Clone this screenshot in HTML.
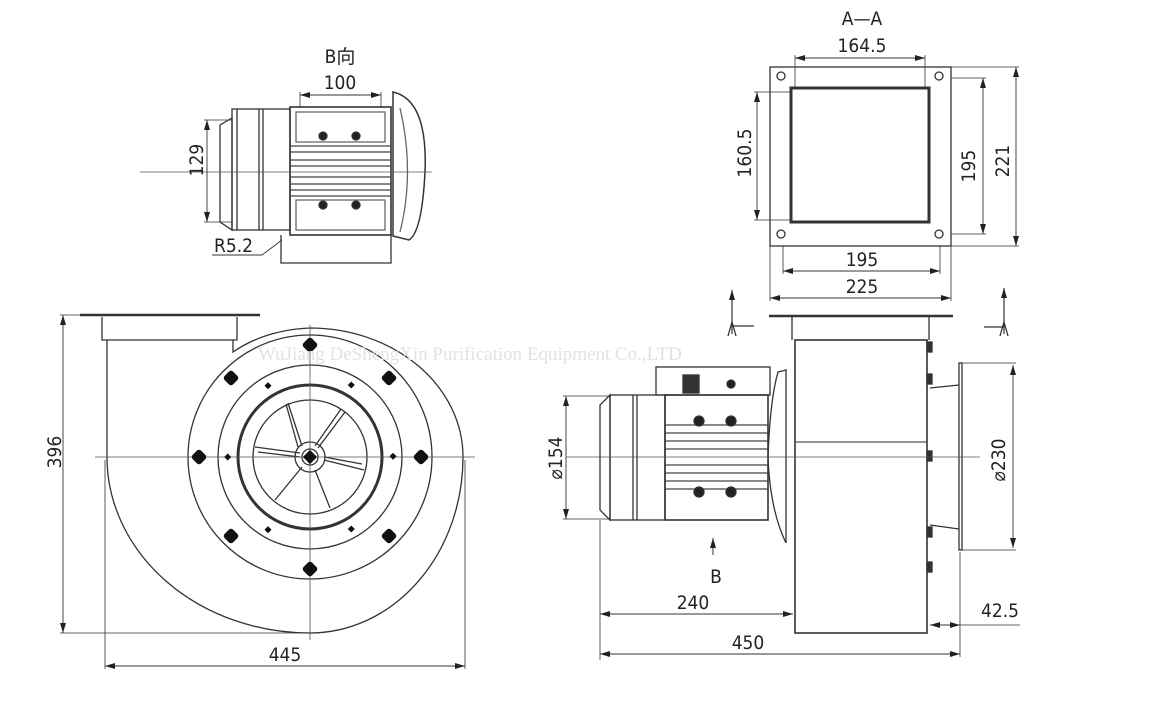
<!DOCTYPE html>
<html><head><meta charset="utf-8"><style>
html,body{margin:0;padding:0;background:#fff;}
svg{display:block;}
text{font-family:"DejaVu Sans Condensed","Liberation Sans Narrow","Liberation Sans","Noto Sans CJK SC",sans-serif;fill:#222;}
</style></head><body>
<svg width="1154" height="702" viewBox="0 0 1154 702" xmlns="http://www.w3.org/2000/svg">
<defs>
<marker id="a" viewBox="0 0 10 6" refX="10" refY="3" markerWidth="10" markerHeight="6" orient="auto-start-reverse" markerUnits="userSpaceOnUse"><path d="M0,0L10,3L0,6z" fill="#222"/></marker>
</defs>
<g fill="none" stroke="#333" stroke-width="1.3">

<!-- ===== B view (top-left) ===== -->
<path d="M232,118 L220,125 L220,222 L232,230 Z"/>
<rect x="232" y="109" width="58" height="121"/>
<line x1="237" y1="109" x2="237" y2="230"/><line x1="259" y1="109" x2="259" y2="230"/><line x1="263" y1="109" x2="263" y2="230"/>
<rect x="290" y="107" width="101" height="128" stroke-width="1.6"/>
<rect x="296" y="112" width="89" height="30" stroke="#666"/>
<rect x="296" y="200" width="89" height="30" stroke="#666"/>
<g stroke="#444" stroke-width="1.2">
<line x1="290" y1="146" x2="391" y2="146"/><line x1="290" y1="152" x2="391" y2="152"/>
<line x1="290" y1="160" x2="391" y2="160"/><line x1="290" y1="166" x2="391" y2="166"/>
<line x1="290" y1="177" x2="391" y2="177"/><line x1="290" y1="184" x2="391" y2="184"/>
<line x1="290" y1="190" x2="391" y2="190"/><line x1="290" y1="196" x2="391" y2="196"/>
</g>
<circle cx="323" cy="136" r="4" fill="#222"/><circle cx="356" cy="136" r="4" fill="#222"/>
<circle cx="323" cy="205" r="4" fill="#222"/><circle cx="356" cy="205" r="4" fill="#222"/>
<path d="M393,92 Q428,100 425,172 Q422,232 409,240 L393,236 Z" stroke-width="1.5"/>
<path d="M400,108 Q415,172 400,232" stroke="#666"/>
<path d="M281,235 L281,263 L391,263 L391,235"/>
<line x1="140" y1="172" x2="432" y2="172" stroke="#555" stroke-width="0.8"/>
<line x1="300" y1="95" x2="381" y2="95" marker-start="url(#a)" marker-end="url(#a)" stroke-width="0.9"/>
<line x1="300" y1="92" x2="300" y2="107" stroke-width="0.8"/><line x1="381" y1="92" x2="381" y2="107" stroke-width="0.8"/>
<line x1="207" y1="120" x2="207" y2="222" marker-start="url(#a)" marker-end="url(#a)" stroke-width="0.9"/>
<line x1="204" y1="120" x2="232" y2="120" stroke-width="0.8"/><line x1="204" y1="222" x2="232" y2="222" stroke-width="0.8"/>
<path d="M212,255 L262,255 L282,240" stroke-width="0.9"/>

<!-- ===== A-A (top-right) ===== -->
<rect x="770" y="67" width="181" height="179" stroke-width="1.3"/>
<rect x="791" y="88" width="138" height="134" stroke-width="3" stroke="#333"/>
<circle cx="781" cy="76" r="4"/><circle cx="939" cy="76" r="4"/>
<circle cx="781" cy="234" r="4"/><circle cx="939" cy="234" r="4"/>
<line x1="795" y1="58" x2="925" y2="58" marker-start="url(#a)" marker-end="url(#a)" stroke-width="0.9"/>
<line x1="795" y1="55" x2="795" y2="88" stroke-width="0.8"/><line x1="925" y1="55" x2="925" y2="88" stroke-width="0.8"/>
<line x1="757" y1="92" x2="757" y2="220" marker-start="url(#a)" marker-end="url(#a)" stroke-width="0.9"/>
<line x1="754" y1="92" x2="791" y2="92" stroke-width="0.8"/><line x1="754" y1="220" x2="791" y2="220" stroke-width="0.8"/>
<line x1="983" y1="78" x2="983" y2="234" marker-start="url(#a)" marker-end="url(#a)" stroke-width="0.9"/>
<line x1="951" y1="78" x2="986" y2="78" stroke-width="0.8"/><line x1="951" y1="234" x2="986" y2="234" stroke-width="0.8"/>
<line x1="1016" y1="67" x2="1016" y2="246" marker-start="url(#a)" marker-end="url(#a)" stroke-width="0.9"/>
<line x1="951" y1="67" x2="1019" y2="67" stroke-width="0.8"/><line x1="951" y1="246" x2="1019" y2="246" stroke-width="0.8"/>
<line x1="783" y1="271" x2="940" y2="271" marker-start="url(#a)" marker-end="url(#a)" stroke-width="0.9"/>
<line x1="783" y1="246" x2="783" y2="274" stroke-width="0.8"/><line x1="940" y1="246" x2="940" y2="274" stroke-width="0.8"/>
<line x1="770" y1="298" x2="951" y2="298" marker-start="url(#a)" marker-end="url(#a)" stroke-width="0.9"/>
<line x1="770" y1="246" x2="770" y2="301" stroke-width="0.8"/><line x1="951" y1="246" x2="951" y2="301" stroke-width="0.8"/>
<path d="M732,334 L732,290" marker-end="url(#a)" stroke-width="1.2"/><path d="M732,326 L754,326"/><path d="M728,336 L732,322 L736,336"/>
<path d="M1004,334 L1004,288" marker-end="url(#a)" stroke-width="1.2"/><path d="M984,327 L1004,327"/><path d="M1000,336 L1004,322 L1008,336"/>

<!-- ===== front view (bottom-left) ===== -->
<line x1="80" y1="315" x2="260" y2="315" stroke-width="2.5"/>
<path d="M102,317 L102,340 L237,340 L237,317"/>
<path d="M107,340 L107,457 A203,176 0 0 0 310,633 A153,176 0 0 0 463,457 A153,129 0 0 0 310,328 Q265,330 233,352 L233,340"/>
<circle cx="310" cy="457" r="122"/>
<circle cx="310" cy="457" r="92"/>
<circle cx="310" cy="457" r="72" stroke-width="3"/>
<circle cx="310" cy="457" r="57"/>
<circle cx="310" cy="457" r="15"/>
<circle cx="310" cy="457" r="8"/>
<g stroke="#333" stroke-width="1.3">
<line x1="255" y1="447" x2="300" y2="453"/><line x1="258" y1="452" x2="300" y2="457"/>
<line x1="288" y1="403" x2="302" y2="446"/><line x1="286" y1="404" x2="298" y2="447"/>
<line x1="345" y1="412" x2="318" y2="448"/><line x1="341" y1="409" x2="315" y2="446"/>
<line x1="364" y1="470" x2="324" y2="460"/><line x1="362" y1="464" x2="324" y2="457"/>
<line x1="330" y1="508" x2="315" y2="470"/><line x1="275" y1="500" x2="302" y2="467"/>
</g>
<line x1="95" y1="457" x2="475" y2="457" stroke="#555" stroke-width="0.8"/>
<line x1="310" y1="325" x2="310" y2="640" stroke="#555" stroke-width="0.8"/>
<line x1="63" y1="315" x2="63" y2="633" marker-start="url(#a)" marker-end="url(#a)" stroke-width="0.9"/>
<line x1="60" y1="633" x2="310" y2="633" stroke-width="0.8"/><line x1="60" y1="315" x2="80" y2="315" stroke-width="0.8"/>
<line x1="105" y1="666" x2="465" y2="666" marker-start="url(#a)" marker-end="url(#a)" stroke-width="0.9"/>
<line x1="105" y1="460" x2="105" y2="669" stroke-width="0.8"/><line x1="465" y1="460" x2="465" y2="669" stroke-width="0.8"/>
</g>
<g fill="#111">
<rect x="304" y="339" width="12" height="12" rx="3" transform="rotate(45 310 345)"/>
<rect x="304" y="563" width="12" height="12" rx="3" transform="rotate(45 310 569)"/>
<rect x="193" y="451" width="12" height="12" rx="3" transform="rotate(45 199 457)"/>
<rect x="415" y="451" width="12" height="12" rx="3" transform="rotate(45 421 457)"/>
<rect x="225" y="372" width="12" height="12" rx="3" transform="rotate(45 231 378)"/>
<rect x="383" y="372" width="12" height="12" rx="3" transform="rotate(45 389 378)"/>
<rect x="225" y="530" width="12" height="12" rx="3" transform="rotate(45 231 536)"/>
<rect x="383" y="530" width="12" height="12" rx="3" transform="rotate(45 389 536)"/>
<rect x="225" y="454" width="5" height="5" transform="rotate(45 227 457)"/>
<rect x="390" y="454" width="5" height="5" transform="rotate(45 393 457)"/>
<rect x="266" y="383" width="5" height="5" transform="rotate(45 268 385)"/>
<rect x="349" y="383" width="5" height="5" transform="rotate(45 352 385)"/>
<rect x="266" y="527" width="5" height="5" transform="rotate(45 268 529)"/>
<rect x="349" y="527" width="5" height="5" transform="rotate(45 352 529)"/>
<rect x="305" y="452" width="10" height="10" transform="rotate(45 310 457)"/>
</g>

<!-- ===== side view (bottom-right) ===== -->
<g fill="none" stroke="#333" stroke-width="1.3">
<line x1="769" y1="316" x2="953" y2="316" stroke-width="2.5"/>
<path d="M792,317 L792,340 M929,317 L929,340"/>
<rect x="795" y="340" width="132" height="293" stroke-width="1.6"/>
<line x1="795" y1="442" x2="927" y2="442" stroke="#555"/>
<g fill="#333"><rect x="927" y="342" width="5" height="10"/><rect x="927" y="374" width="5" height="10"/><rect x="927" y="451" width="5" height="10"/><rect x="927" y="527" width="5" height="10"/><rect x="927" y="562" width="5" height="10"/></g>
<rect x="959" y="363" width="3" height="187"/>
<path d="M930,388 L959,385 M930,525 L959,529"/>
<path d="M610,395 L600,405 L600,510 L610,520 Z"/>
<rect x="610" y="395" width="55" height="125"/>
<line x1="633" y1="395" x2="633" y2="520"/><line x1="637" y1="395" x2="637" y2="520"/>
<rect x="665" y="395" width="103" height="125" stroke-width="1.6"/>
<rect x="656" y="367" width="114" height="28"/>
<rect x="683" y="375" width="16" height="18" fill="#333"/>
<circle cx="731" cy="384" r="4" fill="#222"/>
<g stroke="#444" stroke-width="1.2">
<line x1="665" y1="425" x2="768" y2="425"/><line x1="665" y1="433" x2="768" y2="433"/>
<line x1="665" y1="441" x2="768" y2="441"/><line x1="665" y1="449" x2="768" y2="449"/>
<line x1="665" y1="465" x2="768" y2="465"/><line x1="665" y1="473" x2="768" y2="473"/>
<line x1="665" y1="481" x2="768" y2="481"/><line x1="665" y1="489" x2="768" y2="489"/>
</g>
<circle cx="699" cy="421" r="5" fill="#222"/><circle cx="731" cy="421" r="5" fill="#222"/>
<circle cx="699" cy="492" r="5" fill="#222"/><circle cx="731" cy="492" r="5" fill="#222"/>
<path d="M786,370 L778,372 Q770,400 768,457 Q770,510 786,543 Z"/>
<line x1="566" y1="457" x2="980" y2="457" stroke="#555" stroke-width="0.8"/>
<line x1="713" y1="555" x2="713" y2="538" marker-end="url(#a)" stroke-width="1"/>
<line x1="566" y1="396" x2="566" y2="519" marker-start="url(#a)" marker-end="url(#a)" stroke-width="0.9"/>
<line x1="563" y1="396" x2="610" y2="396" stroke-width="0.8"/><line x1="563" y1="519" x2="610" y2="519" stroke-width="0.8"/>
<line x1="1013" y1="365" x2="1013" y2="548" marker-start="url(#a)" marker-end="url(#a)" stroke-width="0.9"/>
<line x1="962" y1="363" x2="1016" y2="363" stroke-width="0.8"/><line x1="962" y1="550" x2="1016" y2="550" stroke-width="0.8"/>
<line x1="600" y1="520" x2="600" y2="660" stroke-width="0.8"/>
<line x1="600" y1="614" x2="793" y2="614" marker-start="url(#a)" marker-end="url(#a)" stroke-width="0.9"/>
<line x1="600" y1="654" x2="960" y2="654" marker-start="url(#a)" marker-end="url(#a)" stroke-width="0.9"/>
<line x1="960" y1="552" x2="960" y2="657" stroke-width="0.8"/>
<line x1="930" y1="625" x2="960" y2="625" marker-start="url(#a)" marker-end="url(#a)" stroke-width="0.9"/>
<line x1="960" y1="625" x2="1020" y2="625" stroke-width="0.8"/>
</g>

<text x="258" y="360" style="font-family:'Liberation Serif',serif;font-size:19px;fill:#e2e2e2">WuJiang DeShengXin Purification Equipment Co.,LTD</text>

<g font-size="19">
<text x="340" y="63" text-anchor="middle">B向</text>
<text x="340" y="89" text-anchor="middle">100</text>
<text x="203" y="160" text-anchor="middle" transform="rotate(-90 203 160)">129</text>
<text x="214" y="252">R5.2</text>
<text x="862" y="25" text-anchor="middle">A—A</text>
<text x="862" y="52" text-anchor="middle">164.5</text>
<text x="751" y="153" text-anchor="middle" transform="rotate(-90 751 153)">160.5</text>
<text x="975" y="166" text-anchor="middle" transform="rotate(-90 975 166)">195</text>
<text x="1009" y="161" text-anchor="middle" transform="rotate(-90 1009 161)">221</text>
<text x="862" y="266" text-anchor="middle">195</text>
<text x="862" y="293" text-anchor="middle">225</text>
<text x="61" y="452" text-anchor="middle" transform="rotate(-90 61 452)">396</text>
<text x="285" y="661" text-anchor="middle">445</text>
<text x="562" y="458" text-anchor="middle" transform="rotate(-90 562 458)">⌀154</text>
<text x="1005" y="460" text-anchor="middle" transform="rotate(-90 1005 460)">⌀230</text>
<text x="716" y="583" text-anchor="middle">B</text>
<text x="693" y="609" text-anchor="middle">240</text>
<text x="748" y="649" text-anchor="middle">450</text>
<text x="1000" y="617" text-anchor="middle">42.5</text>
</g>
</svg>
</body></html>
